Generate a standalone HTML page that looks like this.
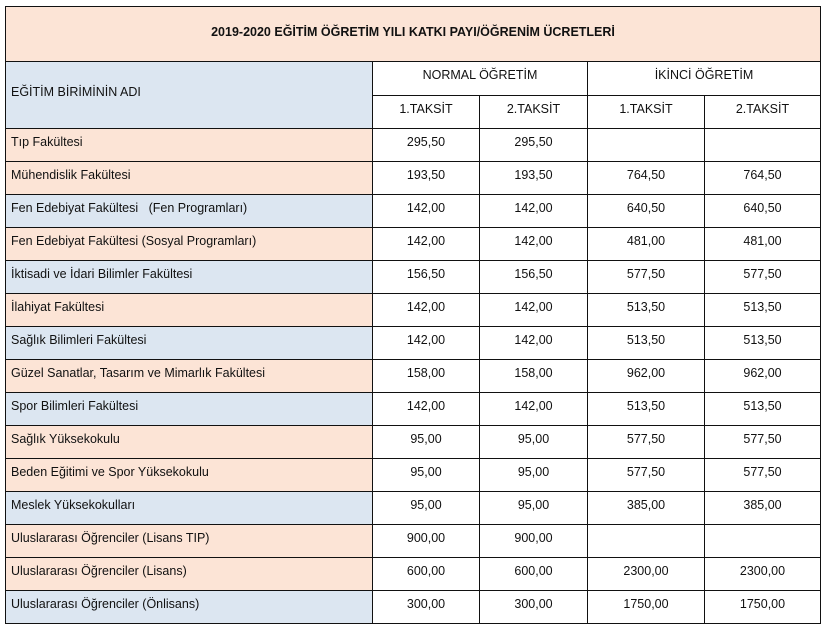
<!DOCTYPE html>
<html><head><meta charset="utf-8"><style>
body{margin:0;background:#fff;width:824px;height:630px;overflow:hidden}
table{position:absolute;left:5px;top:6px;border-collapse:collapse;table-layout:fixed;font-family:"Liberation Sans","DejaVu Sans",sans-serif;font-size:12.5px;color:#111}
td{border:1.5px solid #111;padding:0 0 6px 0;height:26px;text-align:center;white-space:nowrap;overflow:hidden}
td.n{text-align:left;padding-left:5px}
.p{background:#fce4d6}.b{background:#dce6f1}
.t{height:50px;padding-bottom:4px;font-weight:bold;font-size:12.5px}
.h{height:25px;padding-bottom:8px}
</style></head><body>
<table>
<colgroup><col style="width:367px"><col style="width:107px"><col style="width:108px"><col style="width:117px"><col style="width:116px"></colgroup>
<tr><td colspan="5" class="t p">2019-2020 EĞİTİM ÖĞRETİM YILI KATKI PAYI/ÖĞRENİM ÜCRETLERİ</td></tr>
<tr><td rowspan="2" class="n b">EĞİTİM BİRİMİNİN ADI</td><td colspan="2" class="h">NORMAL ÖĞRETİM</td><td colspan="2" class="h">İKİNCİ ÖĞRETİM</td></tr>
<tr><td>1.TAKSİT</td><td>2.TAKSİT</td><td>1.TAKSİT</td><td>2.TAKSİT</td></tr>
<tr><td class="n p">Tıp Fakültesi</td><td>295,50</td><td>295,50</td><td></td><td></td></tr>
<tr><td class="n p">Mühendislik Fakültesi</td><td>193,50</td><td>193,50</td><td>764,50</td><td>764,50</td></tr>
<tr><td class="n b">Fen Edebiyat Fakültesi &nbsp; (Fen Programları)</td><td>142,00</td><td>142,00</td><td>640,50</td><td>640,50</td></tr>
<tr><td class="n p">Fen Edebiyat Fakültesi (Sosyal Programları)</td><td>142,00</td><td>142,00</td><td>481,00</td><td>481,00</td></tr>
<tr><td class="n b">İktisadi ve İdari Bilimler Fakültesi</td><td>156,50</td><td>156,50</td><td>577,50</td><td>577,50</td></tr>
<tr><td class="n p">İlahiyat Fakültesi</td><td>142,00</td><td>142,00</td><td>513,50</td><td>513,50</td></tr>
<tr><td class="n b">Sağlık Bilimleri Fakültesi</td><td>142,00</td><td>142,00</td><td>513,50</td><td>513,50</td></tr>
<tr><td class="n p">Güzel Sanatlar, Tasarım ve Mimarlık Fakültesi</td><td>158,00</td><td>158,00</td><td>962,00</td><td>962,00</td></tr>
<tr><td class="n b">Spor Bilimleri Fakültesi</td><td>142,00</td><td>142,00</td><td>513,50</td><td>513,50</td></tr>
<tr><td class="n p">Sağlık Yüksekokulu</td><td>95,00</td><td>95,00</td><td>577,50</td><td>577,50</td></tr>
<tr><td class="n p">Beden Eğitimi ve Spor Yüksekokulu</td><td>95,00</td><td>95,00</td><td>577,50</td><td>577,50</td></tr>
<tr><td class="n b">Meslek Yüksekokulları</td><td>95,00</td><td>95,00</td><td>385,00</td><td>385,00</td></tr>
<tr><td class="n p">Uluslararası Öğrenciler (Lisans TIP)</td><td>900,00</td><td>900,00</td><td></td><td></td></tr>
<tr><td class="n p">Uluslararası Öğrenciler (Lisans)</td><td>600,00</td><td>600,00</td><td>2300,00</td><td>2300,00</td></tr>
<tr><td class="n b">Uluslararası Öğrenciler (Önlisans)</td><td>300,00</td><td>300,00</td><td>1750,00</td><td>1750,00</td></tr>
</table>
</body></html>
